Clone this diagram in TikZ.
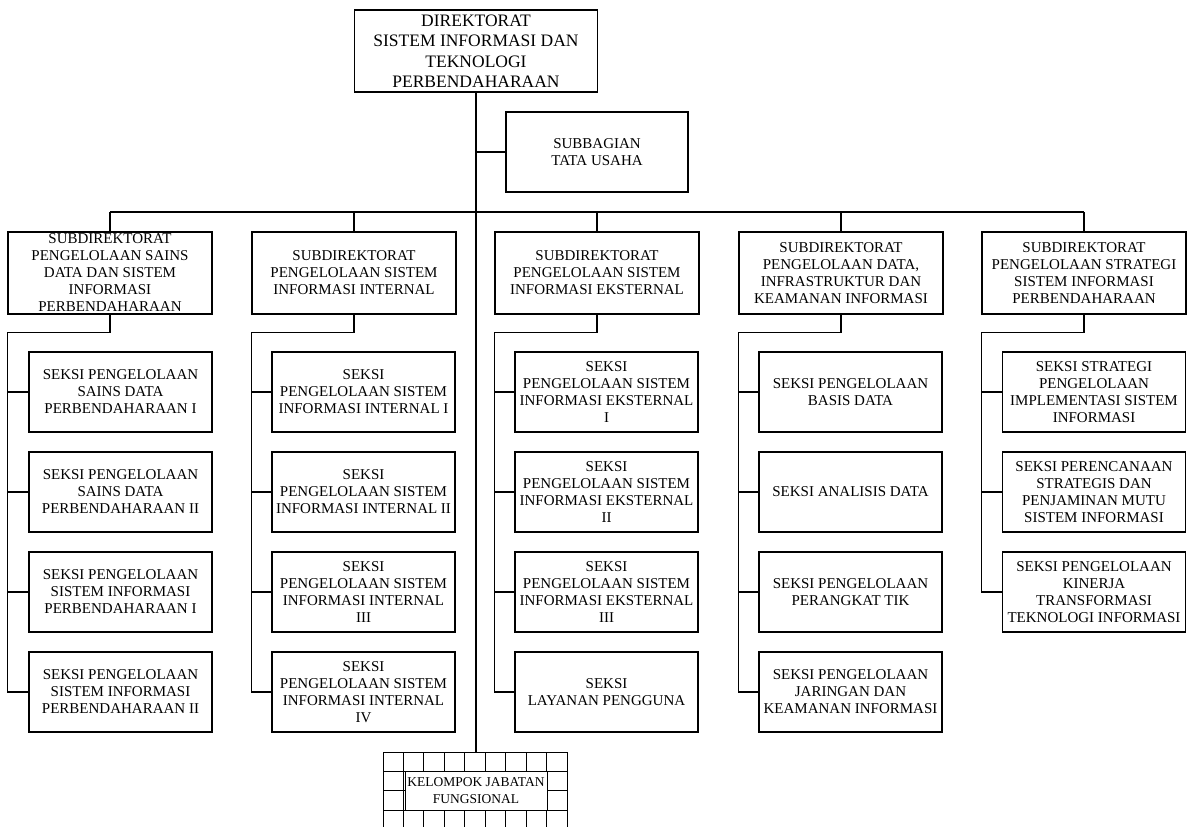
\documentclass[tikz,border=0pt]{standalone}
\usepackage{fontspec}
\setmainfont{Liberation Serif}
\usetikzlibrary{positioning}

\begin{document}
\begin{tikzpicture}[
  x=1pt, y=-1pt,
  unit/.style={draw, line width=1.1pt, rectangle, inner sep=0pt, align=center,
               font=\fontsize{15}{17}\selectfont},
  dir/.style={unit, minimum width=243pt, minimum height=82pt,
              font=\fontsize{17.5}{20.5}\selectfont},
  subdir/.style={unit, minimum width=204pt, minimum height=82pt},
  seksi/.style={unit, minimum width=183pt, minimum height=80pt},
  link/.style={line width=1.1pt},
  cell/.style={line width=0.9pt},
]
\useasboundingbox (0,0) rectangle (1190,827);

% direktorat and tata usaha
\node[dir] (dir) at (476,51) {DIREKTORAT\\SISTEM INFORMASI DAN\\TEKNOLOGI\\PERBENDAHARAAN};
\node[unit, minimum width=182pt, minimum height=80pt] (tu) at (597,152) {SUBBAGIAN\\TATA USAHA};

% subdirektorat row
\node[subdir] (sdA) at (110,273) {SUBDIREKTORAT\\PENGELOLAAN SAINS\\DATA DAN SISTEM\\INFORMASI\\PERBENDAHARAAN};
\node[subdir] (sdB) at (354,273) {SUBDIREKTORAT\\PENGELOLAAN SISTEM\\INFORMASI INTERNAL};
\node[subdir] (sdC) at (597,273) {SUBDIREKTORAT\\PENGELOLAAN SISTEM\\INFORMASI EKSTERNAL};
\node[subdir] (sdD) at (841,273) {SUBDIREKTORAT\\PENGELOLAAN DATA,\\INFRASTRUKTUR DAN\\KEAMANAN INFORMASI};
\node[subdir] (sdE) at (1084,273) {SUBDIREKTORAT\\PENGELOLAAN STRATEGI\\SISTEM INFORMASI\\PERBENDAHARAAN};

% seksi, column A
\node[seksi] (kA1) at (120.5,392) {SEKSI PENGELOLAAN\\SAINS DATA\\PERBENDAHARAAN I};
\node[seksi] (kA2) at (120.5,492) {SEKSI PENGELOLAAN\\SAINS DATA\\PERBENDAHARAAN II};
\node[seksi] (kA3) at (120.5,592) {SEKSI PENGELOLAAN\\SISTEM INFORMASI\\PERBENDAHARAAN I};
\node[seksi] (kA4) at (120.5,692) {SEKSI PENGELOLAAN\\SISTEM INFORMASI\\PERBENDAHARAAN II};

% seksi, column B
\node[seksi] (kB1) at (363.5,392) {SEKSI\\PENGELOLAAN SISTEM\\INFORMASI INTERNAL I};
\node[seksi] (kB2) at (363.5,492) {SEKSI\\PENGELOLAAN SISTEM\\INFORMASI INTERNAL II};
\node[seksi] (kB3) at (363.5,592) {SEKSI\\PENGELOLAAN SISTEM\\INFORMASI INTERNAL\\III};
\node[seksi] (kB4) at (363.5,692) {SEKSI\\PENGELOLAAN SISTEM\\INFORMASI INTERNAL\\IV};

% seksi, column C
\node[seksi] (kC1) at (606.5,392) {SEKSI\\PENGELOLAAN SISTEM\\INFORMASI EKSTERNAL\\I};
\node[seksi] (kC2) at (606.5,492) {SEKSI\\PENGELOLAAN SISTEM\\INFORMASI EKSTERNAL\\II};
\node[seksi] (kC3) at (606.5,592) {SEKSI\\PENGELOLAAN SISTEM\\INFORMASI EKSTERNAL\\III};
\node[seksi] (kC4) at (606.5,692) {SEKSI\\LAYANAN PENGGUNA};

% seksi, column D
\node[seksi] (kD1) at (850.5,392) {SEKSI PENGELOLAAN\\BASIS DATA};
\node[seksi] (kD2) at (850.5,492) {SEKSI ANALISIS DATA};
\node[seksi] (kD3) at (850.5,592) {SEKSI PENGELOLAAN\\PERANGKAT TIK};
\node[seksi] (kD4) at (850.5,692) {SEKSI PENGELOLAAN\\JARINGAN DAN\\KEAMANAN INFORMASI};

% seksi, column E
\node[seksi] (kE1) at (1094,392) {SEKSI STRATEGI\\PENGELOLAAN\\IMPLEMENTASI SISTEM\\INFORMASI};
\node[seksi] (kE2) at (1094,492) {SEKSI PERENCANAAN\\STRATEGIS DAN\\PENJAMINAN MUTU\\SISTEM INFORMASI};
\node[seksi] (kE3) at (1094,592) {SEKSI PENGELOLAAN\\KINERJA\\TRANSFORMASI\\TEKNOLOGI INFORMASI};

% kelompok jabatan fungsional (grid block)
\coordinate (jfgrid) at (476,752);
\foreach \i in {0,...,9}
  \draw[cell] (383+20.44*\i,752) -- (383+20.44*\i,827);
\foreach \j in {0,...,3}
  \draw[cell] (383,752+19.4*\j) -- (567,752+19.4*\j);
\node[unit, fill=white, line width=0.9pt, minimum width=142pt, minimum height=39pt,
      font=\fontsize{13.5}{17}\selectfont] (jf) at (476,791) {KELOMPOK JABATAN\\FUNGSIONAL};

% main spine
\draw[link] (dir.south) -- (jfgrid);
\draw[link] (dir.south |- tu.west) -- (tu.west);

% bus to subdirektorat
\coordinate (bus) at (476,212);
\draw[link] (sdA.north |- bus) -- (sdE.north |- bus);
\foreach \c in {A,...,E}
  \draw[link] (sd\c.north |- bus) -- (sd\c.north);

% rails down to each seksi
\foreach \c/\n in {A/4,B/4,C/4,D/4,E/3} {
  \draw[link] (sd\c.south) -- ++(0,18) -| (sd\c.west |- k\c\n.west) -- (k\c\n.west);
  \foreach \k in {1,...,\n}
    \draw[link] (sd\c.west |- k\c\k.west) -- (k\c\k.west);
}

\end{tikzpicture}
\end{document}
